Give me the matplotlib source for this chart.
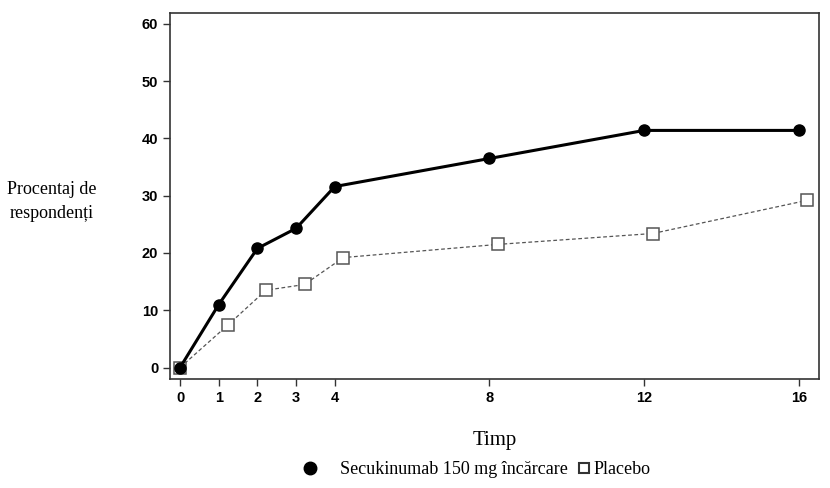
import numpy as np
import matplotlib.pyplot as plt
import matplotlib as mpl
mpl.rcParams['axes.unicode_minus'] = False

weeks = [0, 1, 2, 3, 4, 8, 12, 16]
secu = [0, 11.0, 20.8, 24.3, 31.6, 36.5, 41.4, 41.4]
plac = [0, 7.5, 13.5, 14.5, 19.2, 21.5, 23.4, 29.2]
plac_shift = [0, 0.25, 0.22, 0.22, 0.22, 0.22, 0.22, 0.22]   # placebo drawn slightly offset
xticks = [0, 1, 2, 3, 4, 8, 12, 16]
yticks = [0, 10, 20, 30, 40, 50, 60]

tick_font = ['Liberation Sans Narrow', 'Liberation Sans', 'DejaVu Sans']
serif = ['Liberation Serif', 'DejaVu Serif']

fig = plt.figure(figsize=(8.3, 4.88), dpi=100)
ax = fig.add_axes([170/830, 1-379/488, 649/830, 366/488])

px = np.array(weeks) + np.array(plac_shift)
ax.plot(px, plac, color='#555555', linestyle=(0, (3, 2)), linewidth=0.9,
        marker='s', markersize=8, markerfacecolor='white', markeredgecolor='#555555',
        markeredgewidth=1.1, label='Placebo', zorder=2)
ax.plot(weeks, secu, color='black', linewidth=2.2, marker='o', markersize=8,
        label='Secukinumab 150 mg încărcare', zorder=3)

ax.set_xlim(-0.26, 16.52)
ax.set_ylim(-2.0, 61.9)
ax.set_xticks(xticks)
ax.set_yticks(yticks)
for sp in ax.spines.values():
    sp.set_color('#333333'); sp.set_linewidth(1.2)
ax.tick_params(direction='out', length=5, width=1, color='#333333')
for lb in ax.get_xticklabels() + ax.get_yticklabels():
    lb.set_family(tick_font); lb.set_fontweight('bold'); lb.set_fontsize(10.5)

ax.set_xlabel('Timp', family=serif, fontsize=15, labelpad=18.5)
fig.text(52/830, 1-201.5/488, 'Procentaj de\nrespondenți', family=serif, fontsize=13,
         ha='center', va='center', linespacing=1.6)

h, l = ax.get_legend_handles_labels()
circ = plt.Line2D([], [], color='black', marker='o', markersize=9, linestyle='none')
sq = plt.Line2D([], [], marker='s', markersize=7, markerfacecolor='white',
                markeredgecolor='#333333', markeredgewidth=1.5, linestyle='none')
leg1 = fig.legend([circ], [l[1]], loc='center right', bbox_to_anchor=(568/830, 1-470/488),
                  frameon=False, prop={'family': serif, 'size': 13}, borderpad=0,
                  borderaxespad=0, handlelength=1.2, handletextpad=1.07)
fig.legend([sq], [l[0]], loc='center left', bbox_to_anchor=(577/830, 1-470/488),
           frameon=False, prop={'family': serif, 'size': 13}, borderpad=0,
           borderaxespad=0, handlelength=0.8, handletextpad=0.1)

fig.savefig('out.png', dpi=100)
